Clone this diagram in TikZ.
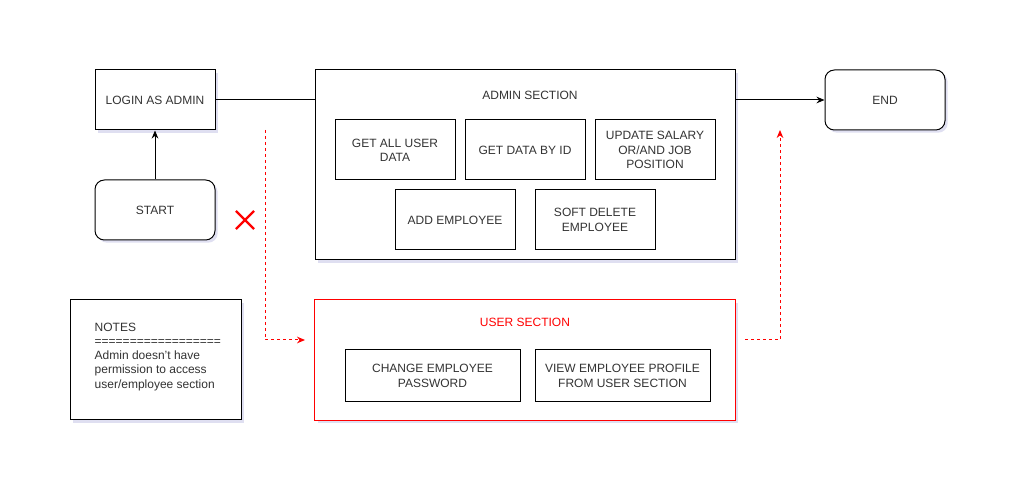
\documentclass[tikz,border=0pt]{standalone}
\usepackage{fontspec}
\setmainfont{Liberation Sans}
\usetikzlibrary{arrows.meta,shadows,shapes.misc}

\begin{document}
\begin{tikzpicture}[x=0.75pt, y=-0.75pt,
  every node/.style = {align=center, text=black!80,
    font=\fontsize{9}{10.7}\selectfont},
  softshadow/.style = {drop shadow={opacity=0.18, fill=blue!40!gray,
    shadow xshift=2pt, shadow yshift=-2pt}}]
    \tikzstyle{box}=[shape=rectangle, draw=black, line width=0.75pt, fill=white,
      minimum width=90pt, minimum height=45pt]
    \tikzstyle{term}=[box, rounded corners=7pt, softshadow]
    \tikzstyle{sect}=[shape=rectangle, line width=0.75pt, softshadow, fill=white,
      minimum width=315pt]
    \tikzstyle{flow}=[line width=0.75pt, -{Stealth[length=6pt, width=5pt]}]
    \tikzstyle{deny}=[draw=red, line width=0.75pt, dash pattern=on 2.25pt off 2.25pt,
      -{Stealth[length=6pt, width=5pt]}]
  \useasboundingbox (0,0) rectangle (1011,491);

  \node [box, softshadow] (login) at (155,100) {LOGIN AS ADMIN};
  \node [term] (start) at (155,210) {START};
  \node [term] (end) at (885,100) {END};

  \node [sect, draw=black, minimum height=142.5pt] (admin) at (525,165) {};
  \node (admintitle) at (530,95) {ADMIN SECTION};
  \node [box] (getall) at (395,150) {GET ALL USER\\DATA};
  \node [box] (getid) at (525,150) {GET DATA BY ID};
  \node [box] (update) at (655,150) {UPDATE SALARY\\OR/AND JOB\\POSITION};
  \node [box] (add) at (455,220) {ADD EMPLOYEE};
  \node [box] (softdel) at (595,220) {SOFT DELETE\\EMPLOYEE};

  \node [sect, minimum height=90pt] (user) at (525,360) {};
  \draw [red, line width=0.75pt] (user.north west) rectangle (user.south east);
  \node [text=red] (usertitle) at (525,322) {USER SECTION};
  \node [box, minimum width=131.25pt, minimum height=39pt] (changepw) at (432.5,376)
    {CHANGE EMPLOYEE\\PASSWORD};
  \node [box, minimum width=131.25pt, minimum height=39pt] (viewprof) at (622.5,376)
    {VIEW EMPLOYEE PROFILE\\FROM USER SECTION};

  \node [box, softshadow, minimum width=128.25pt, minimum height=90pt] (notes) at (155.5,360) {};
  \node [anchor=north west, align=left] (notestext) at (90,318)
    {NOTES\\==================\\Admin doesn't have\\permission to access\\user/employee section};

  \node [shape=cross out, draw=red, line width=1.6pt, minimum size=12pt, inner sep=0pt]
    (cross) at (245,220) {};

  \coordinate (denyA) at (265,130);
  \coordinate (denyB) at (305,340);
  \coordinate (denyC) at (745,340);
  \coordinate (denyD) at (780,130);

  \draw [flow] (start.north) -- (login.south);
  \draw [line width=0.75pt] (login.east) -- (login.east -| admin.west);
  \draw [flow] (admin.east |- end.west) -- (end.west);
  \draw [deny] (denyA) |- (denyB);
  \draw [deny] (denyC) -| (denyD);
\end{tikzpicture}
\end{document}
